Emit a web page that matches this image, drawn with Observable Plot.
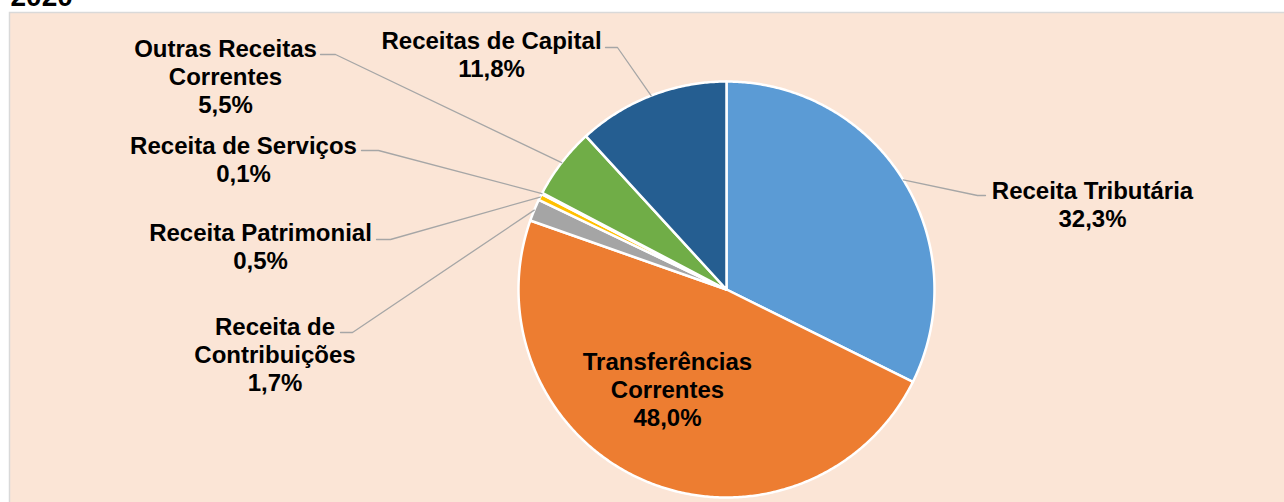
<!DOCTYPE html>
<html><head><meta charset="utf-8">
<script src="https://cdn.jsdelivr.net/npm/d3@7"></script>
<script src="https://cdn.jsdelivr.net/npm/@observablehq/plot@0.6"></script>
<style>html,body{margin:0;padding:0;background:#fff;} svg{display:block}</style>
</head><body><div id="chart"></div>
<script>
// ---- data ----
const title = "2020";
const categories = ["Receita Tributária","Transferências Correntes","Receita de Contribuições","Receita Patrimonial","Receita de Serviços","Outras Receitas Correntes","Receitas de Capital"];
const values = [32.3, 48.0, 1.7, 0.5, 0.1, 5.5, 11.8];
const labelLines = [["Receita Tributária"],["Transferências","Correntes"],["Receita de","Contribuições"],["Receita Patrimonial"],["Receita de Serviços"],["Outras Receitas","Correntes"],["Receitas de Capital"]];
const colors = ["#5B9BD5","#ED7D31","#A5A5A5","#FFC000","#4472C4","#70AD47","#255E91"];

// ---- layout (pixel offsets relative to the pie centre) ----
const W = 1284, H = 502, CX = 726, CY = 289, R = 208;
const labelPos = [[366,-110],[-59,61],[-451.5,26],[-466,-68.5],[-483,-155],[-501,-252],[-235,-260]];
const stubs = [[[259,-94],[251,-94]], null, [[-386,43],[-374,43]], [[-350,-50],[-336,-50]], [[-365,-139],[-348,-139]], [[-406,-235],[-391,-235]], [[-121,-242],[-109,-242]]];

const fmt = v => v.toFixed(1).replace(".", ",") + "%";
const arcs = d3.pie().sort(null).value(d => d)(values);

const wedgePts = [];
arcs.forEach((a, i) => {
  const name = categories[i];
  wedgePts.push({name, x: 0, y: 0});
  const n = Math.max(2, Math.ceil((a.endAngle - a.startAngle) / (Math.PI / 360)));
  for (let k = 0; k <= n; k++) {
    const t = a.startAngle + (a.endAngle - a.startAngle) * k / n;
    wedgePts.push({name, x: R * Math.sin(t), y: -R * Math.cos(t)});
  }
});

const leaderPts = [];
arcs.forEach((a, i) => {
  if (!stubs[i]) return;
  const name = categories[i];
  const m = (a.startAngle + a.endAngle) / 2;
  leaderPts.push({name, x: stubs[i][0][0], y: stubs[i][0][1]});
  leaderPts.push({name, x: stubs[i][1][0], y: stubs[i][1][1]});
  leaderPts.push({name, x: R * Math.sin(m), y: -R * Math.cos(m)});
});

const labelData = categories.map((c, i) => ({
  name: c,
  x: labelPos[i][0],
  y: labelPos[i][1],
  text: labelLines[i].join("\n") + "\n" + fmt(values[i])
}));

const font = "'Liberation Sans', Arial, Helvetica, sans-serif";
const chart = Plot.plot({
  width: W, height: H,
  marginLeft: 9, marginTop: 12, marginRight: 0, marginBottom: 0,
  style: {background: "#ffffff", overflow: "visible"},
  x: {domain: [9 - CX, W - CX], range: [9, W], axis: null},
  y: {domain: [12 - CY, H - CY], range: [12, H], axis: null},
  color: {domain: categories, range: colors},
  marks: [
    Plot.frame({fill: "#FBE5D6", stroke: "#D9D9D9", strokeWidth: 1.5, insetRight: -3, insetBottom: -3}),
    Plot.line(wedgePts, {x: "x", y: "y", z: "name", fill: "name", stroke: "white", strokeWidth: 2.5, strokeLinejoin: "round", curve: "linear-closed"}),
    Plot.line(leaderPts, {x: "x", y: "y", z: "name", stroke: "#A6A6A6", strokeWidth: 1.3}),
    Plot.text(labelData, {x: "x", y: "y", text: "text", textAnchor: "middle", lineAnchor: "top", fontSize: 24, fontWeight: "bold", fontFamily: font, lineHeight: 1.167, fill: "#000"}),
    Plot.text([title], {text: d => d, frameAnchor: "top-left", dx: 1, dy: -7, lineAnchor: "bottom", textAnchor: "start", fontSize: 28, fontWeight: "bold", fontFamily: font, fill: "#000"})
  ]
});
document.getElementById("chart").appendChild(chart);
</script>
</body></html>
